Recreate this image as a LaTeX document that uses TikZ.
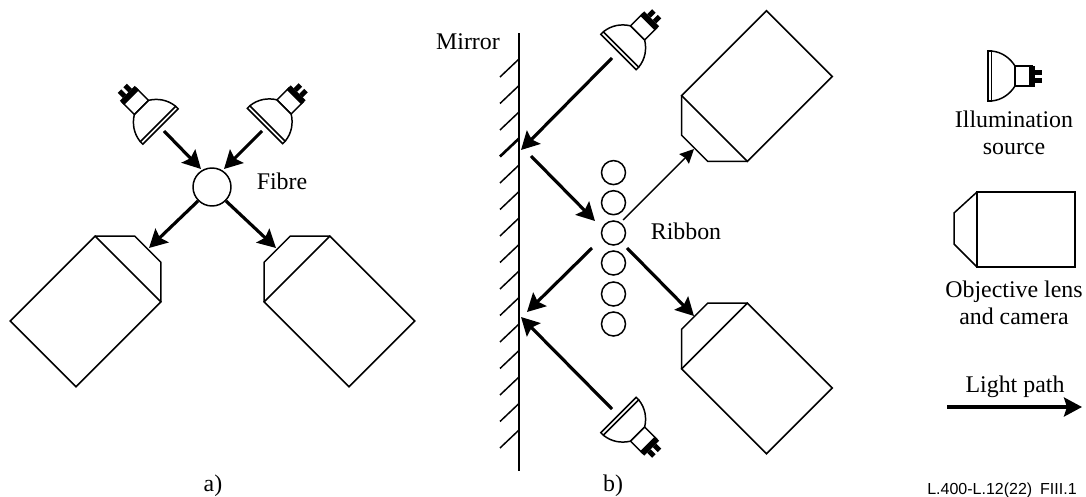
\documentclass[tikz,border=0pt]{standalone}
\usepackage{fontspec}
\setmainfont{Liberation Serif}
\usetikzlibrary{arrows.meta}
\tikzset{
  lightpath/.style={line width=1.8pt,-{Stealth[length=0.36cm,width=0.38cm,inset=0.06cm]}},
  thinpath/.style={line width=0.8pt,-{Stealth[length=0.28cm,width=0.27cm,inset=0.03cm]}},
  label/.style={font=\fontsize{13.6}{15.6}\selectfont,align=center},
  lamp/.pic={
    \draw (0,-25) rectangle (3.5,25);
    \draw (3.5,-25) .. controls (14,-24) and (22,-18) .. (27,-10) -- (27,10)
      .. controls (22,18) and (14,24) .. (3.5,25);
    \draw (27,-10) rectangle (44,10);
    \fill (41,-10.5) rectangle (47,10.5);
    \fill (47,-6.5) rectangle (54,-1.5);
    \fill (47,1.5) rectangle (54,6.5);
  },
  camera/.pic={
    \draw (0,-46.5) rectangle (-120,46.5);
    \draw (0,-46.5) -- (28,-18.5) -- (28,18.5) -- (0,46.5);
  }
}
\begin{document}
\begin{tikzpicture}[x=0.02cm,y=-0.02cm,line width=0.85pt]
  \useasboundingbox (0,0) rectangle (1086,497);

  % a) fibre
  \node[circle,draw,minimum size=0.76cm,inner sep=0pt] (fibre) at (212,187) {};
  \pic[rotate=135] at (160.5,126.5) {lamp};
  \pic[rotate=45] at (265,126) {lamp};
  \pic[rotate=45] at (128,269) {camera};
  \pic[rotate=135] at (297,269) {camera};
  \coordinate (lampA) at (164,131);
  \coordinate (lampB) at (262,131);
  \coordinate (fibreA) at (201,169);
  \coordinate (fibreB) at (224,169);
  \coordinate (camA) at (149,248);
  \coordinate (camB) at (276,248);
  \draw[lightpath] (lampA) -- (fibreA);
  \draw[lightpath] (lampB) -- (fibreB);
  \draw[lightpath] (fibre.225) -- (camA);
  \draw[lightpath] (fibre.-45) -- (camB);
  \node[label] (fibrelab) at (282,181) {Fibre};
  \node[label] (alab) at (213,486) {a)};

  % b) mirror and ribbon
  \coordinate (mirrortop) at (519,33);
  \coordinate (mirrorend) at (519,471);
  \draw[line width=1.1pt] (mirrortop) -- (mirrorend);
  \foreach \k in {0,...,14}{
    \draw (519,59+26.5*\k) -- ++(-19,18);
  }
  \draw[line width=1.5pt] (519,138.5) -- ++(-19,18);
  \node[label] (mirrorlab) at (468,42) {Mirror};
  \foreach \n/\y in {1/172.6,2/202.7,3/233,4/263,5/294,6/324}{
    \node[circle,draw,minimum size=0.48cm,inner sep=0pt] (rib\n) at (613.5,\y) {};
  }
  \node[label] (riblab) at (686,231) {Ribbon};
  \pic[rotate=45] at (618.5,52) {lamp};
  \pic[rotate=-45] at (618.5,415) {lamp};
  \pic[rotate=225] at (714.5,128.5) {camera};
  \pic[rotate=135] at (714.5,336) {camera};
  \coordinate (lampC) at (612,58);
  \coordinate (lampD) at (612,409);
  \coordinate (mirrorA) at (521,150);
  \coordinate (mirrorB) at (531,156);
  \coordinate (mirrorC) at (592,248);
  \coordinate (mirrorD) at (527,312);
  \coordinate (mirrorE) at (521,317);
  \coordinate (ribA) at (595,221);
  \coordinate (ribB) at (623,220);
  \coordinate (ribC) at (627,248);
  \coordinate (camC) at (694,149);
  \coordinate (camD) at (694,316);
  \draw[lightpath] (lampC) -- (mirrorA);
  \draw[lightpath] (mirrorB) -- (ribA);
  \draw[thinpath] (ribB) -- (camC);
  \draw[lightpath] (mirrorC) -- (mirrorD);
  \draw[lightpath] (ribC) -- (camD);
  \draw[lightpath] (lampD) -- (mirrorE);
  \node[label] (blab) at (613,486) {b)};

  % legend
  \pic at (988,76) {lamp};
  \node[label] (lamplab) at (1014,133) {Illumination\\source};
  \draw (977,192) rectangle (1075,267);
  \draw (977,192) -- (954,213) -- (954,244) -- (977,267);
  \node[label] (camlab) at (1014,303) {Objective lens\\and camera};
  \coordinate (pathA) at (947,407);
  \coordinate (pathB) at (1082,407);
  \draw[lightpath] (pathA) -- (pathB);
  \node[label] (pathlab) at (1015,387) {Light path};
  \node[font=\fontspec{Liberation Sans}\fontsize{9.1}{10}\selectfont] (figlab) at (1002,490) {L.400-L.12(22)\enspace FIII.1};
\end{tikzpicture}
\end{document}
